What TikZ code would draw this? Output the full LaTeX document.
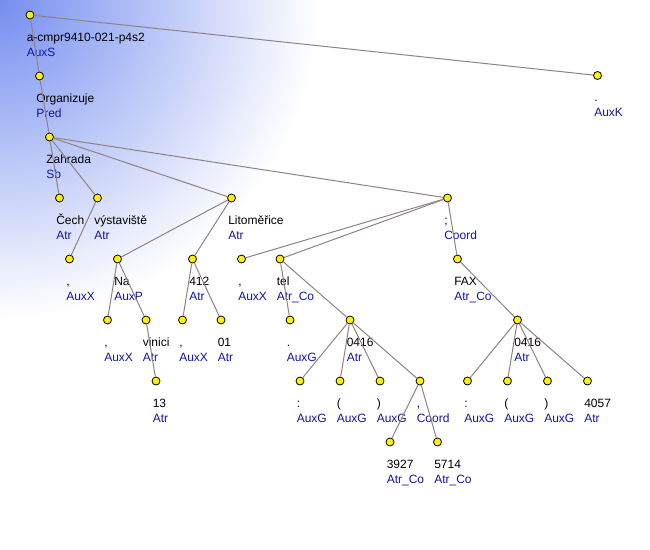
\documentclass[tikz,border=0pt]{standalone}
\usepackage{fontspec}
\setmainfont{Liberation Sans}
\definecolor{bgblue}{RGB}{118,143,240}
\definecolor{edgecol}{RGB}{145,130,130}
\definecolor{fncol}{RGB}{20,20,160}
\tikzset{
  dot/.style={circle, draw=black, fill=yellow, line width=0.6pt, minimum size=6pt, inner sep=0pt},
  wd/.style={anchor=base west, inner sep=0pt, font=\fontsize{9pt}{11pt}\selectfont, text=black},
  fn/.style={anchor=base west, inner sep=0pt, font=\fontsize{9pt}{11pt}\selectfont, text=fncol},
  edge/.style={draw=edgecol, line width=0.75pt}
}
\newcommand\TN[5]{%
  \node[dot] (#1) at (#2,#3) {};
  \node[wd] (#1w) at ([shift={(-3.5,26)}]#1.center) {#4};
  \node[fn] (#1f) at ([shift={(-3.5,41)}]#1.center) {#5};
}
\begin{document}
\begin{tikzpicture}[x=0.75pt,y=-0.75pt]
\fill[white] (0,0) rectangle (650,550);
\useasboundingbox (0,0) rectangle (650,550);
\begin{scope}
\clip (0,0) rectangle (650,550);
\foreach \i in {0,...,79} {
  \pgfmathsetmacro\rr{240*(1-\i/80)}
  \pgfmathsetmacro\pp{100*\i/79}
  \fill[bgblue!\pp!white] (0,0) circle[radius=\rr pt];
}
\end{scope}
\TN{r}{30}{15}{a-cmpr9410-021-p4s2}{AuxS}
\TN{k}{597.5}{75.5}{.}{AuxK}
\TN{org}{39.5}{76}{Organizuje}{Pred}
\TN{zah}{49.5}{137}{Zahrada}{Sb}
\TN{cech}{59.5}{198}{Čech}{Atr}
\TN{vys}{97.5}{198}{výstaviště}{Atr}
\TN{lit}{231.5}{198}{Litoměřice}{Atr}
\TN{coa}{447.5}{198}{;}{Coord}
\TN{ca}{69.5}{259}{,}{AuxX}
\TN{na}{117.5}{259}{Na}{AuxP}
\TN{nfour}{192.5}{259}{412}{Atr}
\TN{cb}{241.5}{259}{,}{AuxX}
\TN{tel}{280}{259}{tel}{Atr\_Co}
\TN{fax}{457.5}{259}{FAX}{Atr\_Co}
\TN{cc}{107.5}{320}{,}{AuxX}
\TN{vin}{146}{320}{vinici}{Atr}
\TN{cd}{182.5}{320}{,}{AuxX}
\TN{nzo}{221}{320}{01}{Atr}
\TN{dta}{290}{320}{.}{AuxG}
\TN{ta}{350}{320}{0416}{Atr}
\TN{fa}{517.5}{320}{0416}{Atr}
\TN{nth}{156}{381}{13}{Atr}
\TN{ga}{300}{381}{:}{AuxG}
\TN{gb}{340}{381}{(}{AuxG}
\TN{gc}{380}{381}{)}{AuxG}
\TN{cob}{420}{381}{,}{Coord}
\TN{gd}{467.5}{381}{:}{AuxG}
\TN{ge}{507.5}{381}{(}{AuxG}
\TN{gf}{547.5}{381}{)}{AuxG}
\TN{nff}{587.5}{381}{4057}{Atr}
\TN{ntn}{390}{442}{3927}{Atr\_Co}
\TN{nfs}{437.5}{442}{5714}{Atr\_Co}
\draw[edge] (r) -- (k);
\draw[edge] (r) -- (org);
\draw[edge] (org) -- (zah);
\draw[edge] (zah) -- (cech);
\draw[edge] (zah) -- (vys);
\draw[edge] (zah) -- (lit);
\draw[edge] (zah) -- (coa);
\draw[edge] (vys) -- (ca);
\draw[edge] (lit) -- (na);
\draw[edge] (lit) -- (nfour);
\draw[edge] (coa) -- (cb);
\draw[edge] (coa) -- (tel);
\draw[edge] (coa) -- (fax);
\draw[edge] (na) -- (cc);
\draw[edge] (na) -- (vin);
\draw[edge] (nfour) -- (cd);
\draw[edge] (nfour) -- (nzo);
\draw[edge] (tel) -- (dta);
\draw[edge] (tel) -- (ta);
\draw[edge] (fax) -- (fa);
\draw[edge] (vin) -- (nth);
\draw[edge] (ta) -- (ga);
\draw[edge] (ta) -- (gb);
\draw[edge] (ta) -- (gc);
\draw[edge] (ta) -- (cob);
\draw[edge] (fa) -- (gd);
\draw[edge] (fa) -- (ge);
\draw[edge] (fa) -- (gf);
\draw[edge] (fa) -- (nff);
\draw[edge] (cob) -- (ntn);
\draw[edge] (cob) -- (nfs);
\end{tikzpicture}
\end{document}
